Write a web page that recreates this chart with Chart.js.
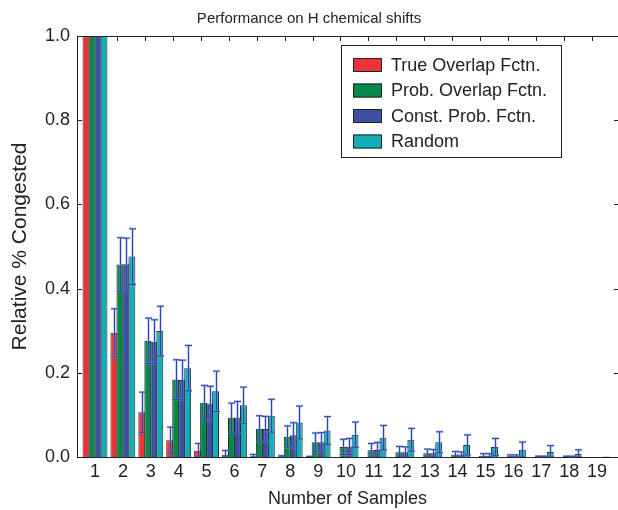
<!DOCTYPE html>
<html lang="en">
<head>
<meta charset="UTF-8">
<title>Performance on H chemical shifts</title>
<script src="https://cdn.jsdelivr.net/npm/chart.js"></script>
<style>
  html, body { margin: 0; padding: 0; background: #fff; }
  #wrap { width: 618px; height: 510px; }
</style>
</head>
<body>

<div id="wrap"><canvas id="myChart"></canvas></div>

<script>

  // número de muestras (eje x)
  const samples = [1, 2, 3, 4, 5, 6, 7, 8, 9, 10, 11, 12, 13, 14, 15, 16, 17, 18, 19];

  // valores, por serie
  const trueOverlap    = [1.0, 0.295, 0.106, 0.040, 0.015, 0.0055, 0.002, 0.001, 0.0005, 0, 0, 0, 0, 0, 0, 0.0005, 0, 0, 0];
  const trueOverlapErr = [0, 0.057, 0.048, 0.031, 0.017, 0.010, 0.004, 0.002, 0.001, 0, 0, 0, 0, 0, 0, 0, 0, 0, 0];

  const probOverlap    = [1.0, 0.457, 0.276, 0.184, 0.129, 0.093, 0.067, 0.048, 0.035, 0.024, 0.016, 0.011, 0.0087, 0.006, 0.003, 0.002, 0.001, 0.001, 0];
  const probOverlapErr = [0, 0.064, 0.054, 0.047, 0.041, 0.035, 0.031, 0.026, 0.022, 0.018, 0.016, 0.014, 0.010, 0.007, 0.005, 0.003, 0.001, 0.001, 0];

  const constProb      = [1.0, 0.458, 0.274, 0.183, 0.127, 0.094, 0.0665, 0.0515, 0.035, 0.025, 0.0165, 0.011, 0.0087, 0.006, 0.003, 0.002, 0.001, 0.001, 0];
  const constProbErr   = [0, 0.062, 0.052, 0.047, 0.041, 0.038, 0.030, 0.030, 0.023, 0.019, 0.018, 0.013, 0.009, 0.006, 0.005, 0.003, 0.001, 0.001, 0];

  const randomSel      = [1.0, 0.476, 0.299, 0.211, 0.156, 0.123, 0.098, 0.082, 0.063, 0.053, 0.046, 0.041, 0.035, 0.0285, 0.024, 0.0175, 0.012, 0.007, 0.001];
  const randomSelErr   = [0, 0.066, 0.059, 0.054, 0.048, 0.043, 0.039, 0.039, 0.033, 0.030, 0.029, 0.027, 0.025, 0.024, 0.020, 0.018, 0.015, 0.010, 0];

  const yTicks = [0, 0.2, 0.4, 0.6, 0.8, 1.0];

  const nombres = ['True Overlap Fctn.', 'Prob. Overlap Fctn.', 'Const. Prob. Fctn.', 'Random'];
  const series  = [trueOverlap, probOverlap, constProb, randomSel];
  const errores = [trueOverlapErr, probOverlapErr, constProbErr, randomSelErr];
  const colores = ['#ee3239', '#038a48', '#3c4fa1', '#12adb6'];

  const FUENTE = "'Liberation Sans', Arial, Helvetica, sans-serif";
  const TINTA = '#222';

  // barras de error (se dibujan con las escalas del gráfico)
  const errorBars = {
    id: 'errorBars',
    afterDatasetsDraw(chart) {
      const {ctx, chartArea: a, scales: {y}} = chart;
      ctx.save();
      ctx.beginPath();
      ctx.rect(a.left, a.top, a.right - a.left, a.bottom - a.top);
      ctx.clip();
      chart.data.datasets.forEach((ds, k) => {
        const meta = chart.getDatasetMeta(k);
        meta.data.forEach((bar, i) => {
          const e = ds.err[i];
          if (!e) return;
          const v = ds.data[i].y;
          const yTop = y.getPixelForValue(v + e);
          const yBot = y.getPixelForValue(Math.max(v - e, 0));
          const x = Math.round(bar.x) + 0.5;
          [['rgba(120,140,215,0.55)', 2.4], ['#2c47b0', 1]].forEach(([c, w]) => {
            ctx.strokeStyle = c;
            ctx.lineWidth = w;
            ctx.beginPath();
            ctx.moveTo(x, yTop); ctx.lineTo(x, yBot);
            ctx.moveTo(x - 3.5, yTop); ctx.lineTo(x + 3.5, yTop);
            ctx.moveTo(x - 3.5, yBot); ctx.lineTo(x + 3.5, yBot);
            ctx.stroke();
          });
        });
      });
      ctx.restore();
    }
  };

  // marco superior y marcas hacia dentro
  const marco = {
    id: 'marco',
    afterDraw(chart) {
      const {ctx, chartArea: a, scales: {x, y}} = chart;
      ctx.save();
      ctx.strokeStyle = TINTA;
      ctx.lineWidth = 1;
      ctx.beginPath();
      ctx.moveTo(a.left, a.top + 0.5); ctx.lineTo(a.right, a.top + 0.5);
      yTicks.slice(1, -1).forEach(v => {
        const py = Math.round(y.getPixelForValue(v)) + 0.5;
        ctx.moveTo(a.left, py); ctx.lineTo(a.left + 5, py);
        ctx.moveTo(a.right, py); ctx.lineTo(a.right - 4, py);
      });
      samples.slice(1).forEach(s => {
        const px = Math.round(x.getPixelForValue(s - 0.2)) + 0.5;
        ctx.moveTo(px, a.top); ctx.lineTo(px, a.top + 5);
      });
      ctx.stroke();
      ctx.restore();
    }
  };

  // leyenda dentro del área del gráfico
  const leyenda = {
    id: 'leyenda',
    afterDraw(chart) {
      const {ctx, chartArea: a} = chart;
      const bx = a.left + 264, by = a.top + 9, bw = 220, bh = 112;
      ctx.save();
      ctx.fillStyle = '#fff';
      ctx.fillRect(bx, by, bw, bh);
      ctx.strokeStyle = TINTA;
      ctx.lineWidth = 1;
      ctx.strokeRect(bx + 0.5, by + 0.5, bw, bh);
      ctx.font = '18px ' + FUENTE;
      ctx.textBaseline = 'middle';
      chart.data.datasets.forEach((ds, k) => {
        const cy = by + 20 + k * 25.5;
        ctx.fillStyle = ds.backgroundColor;
        ctx.fillRect(bx + 12, cy - 7, 29, 14);
        ctx.strokeStyle = TINTA;
        ctx.strokeRect(bx + 12.5, cy - 6.5, 28, 13);
        ctx.fillStyle = TINTA;
        ctx.fillText(ds.label, bx + 50, cy + 1);
      });
      ctx.restore();
    }
  };

  const datasets = nombres.map((n, k) => ({
    label: n,
    data: samples.map((s, i) => ({x: s, y: series[k][i]})),
    err: errores[k],
    backgroundColor: colores[k],
    borderColor: '#2a2a2a',
    borderWidth: 1,
    categoryPercentage: 0.86,
    barPercentage: 1.15
  }));

  const config = {
    type: 'bar',
    data: { datasets: datasets },
    options: {
      responsive: true,
      maintainAspectRatio: false,
      animation: false,
      layout: { padding: 0 },
      plugins: {
        legend: { display: false },
        tooltip: { enabled: false },
        title: {
          display: true,
          text: 'Performance on H chemical shifts',
          color: TINTA,
          font: { family: FUENTE, size: 15, weight: 'normal' },
          padding: { top: 10, bottom: 8 }
        }
      },
      scales: {
        x: {
          type: 'linear',
          offset: false,
          min: 0.355,
          max: 19.75,
          afterBuildTicks: ax => { ax.ticks = samples.map(v => ({ value: v })); },
          afterFit: s => { s.height = 53; },
          grid: { display: false, drawTicks: false },
          border: { display: true, color: TINTA, width: 1 },
          ticks: { color: TINTA, font: { family: FUENTE, size: 18 }, padding: 4, maxRotation: 0, autoSkip: false },
          title: { display: true, text: 'Number of Samples', color: TINTA, font: { family: FUENTE, size: 18 }, padding: 0 }
        },
        y: {
          min: 0,
          max: 1,
          afterBuildTicks: ax => { ax.ticks = yTicks.map(v => ({ value: v })); },
          afterFit: s => { s.width = 77; },
          grid: { display: false, drawTicks: false },
          border: { display: true, color: TINTA, width: 1 },
          ticks: { color: TINTA, font: { family: FUENTE, size: 18 }, padding: 7, callback: v => v.toFixed(1) },
          title: { display: true, text: 'Relative % Congested', color: TINTA, font: { family: FUENTE, size: 21 }, padding: { top: 8, bottom: 0 } }
        }
      }
    },
    plugins: [errorBars, marco, leyenda]
  };

  const myChart = new Chart(document.getElementById('myChart'), config);

</script>

</body>
</html>
